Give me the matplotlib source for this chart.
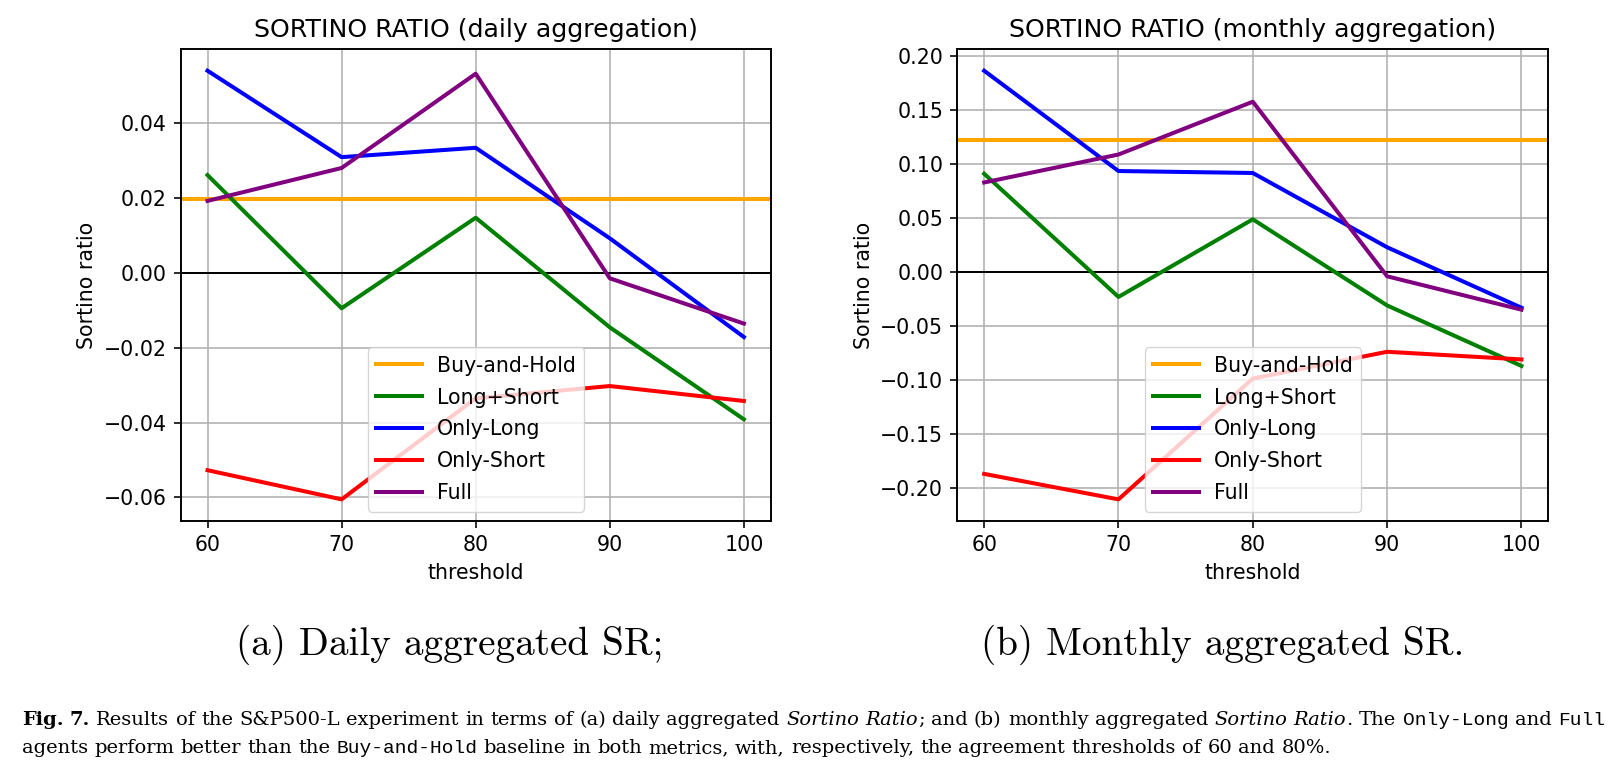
import matplotlib
matplotlib.use("Agg")
import matplotlib.pyplot as plt

# ---------------- data ----------------
thresholds = [60, 70, 80, 90, 100]

daily_buy_hold = 0.0197
daily_long_short = [0.0262, -0.0094, 0.0148, -0.0145, -0.0391]
daily_only_long = [0.0541, 0.0310, 0.0335, 0.0093, -0.0171]
daily_only_short = [-0.0527, -0.0605, -0.0335, -0.0302, -0.0342]
daily_full = [0.0193, 0.0281, 0.0533, -0.0014, -0.0135]

monthly_buy_hold = 0.1223
monthly_long_short = [0.0911, -0.0230, 0.0489, -0.0309, -0.0869]
monthly_only_long = [0.1865, 0.0936, 0.0918, 0.0230, -0.0330]
monthly_only_short = [-0.1869, -0.2105, -0.0986, -0.0738, -0.0809]
monthly_full = [0.0830, 0.1089, 0.1578, -0.0039, -0.0348]

titles = ["SORTINO RATIO (daily aggregation)", "SORTINO RATIO (monthly aggregation)"]
subcaptions = ["(a) Daily aggregated SR;", "(b) Monthly aggregated SR."]

# ---------------- figure ----------------
W, H = 1623, 771
fig = plt.figure(figsize=(W / 100, H / 100), dpi=100)

S = 1.45  # scale of the original figure
FS = 14.8
plt.rcParams["font.family"] = "DejaVu Sans"

ax_rects = [
    (180.7 / W, 1 - 520.8 / H, 590 / W, 471.5 / H),
    (957.3 / W, 1 - 520.8 / H, 591 / W, 471.5 / H),
]

panels = [
    (daily_buy_hold, daily_long_short, daily_only_long, daily_only_short, daily_full),
    (monthly_buy_hold, monthly_long_short, monthly_only_long, monthly_only_short, monthly_full),
]

lw = 2.0 * S
for rect, title, (bh, ls, ol, os_, fu) in zip(ax_rects, titles, panels):
    ax = fig.add_axes(rect)
    ax.axhline(bh, color="orange", lw=lw, label="Buy-and-Hold")
    ax.plot(thresholds, ls, color="green", lw=lw, label="Long+Short")
    ax.plot(thresholds, ol, color="blue", lw=lw, label="Only-Long")
    ax.plot(thresholds, os_, color="red", lw=lw, label="Only-Short")
    ax.plot(thresholds, fu, color="purple", lw=lw, label="Full")
    ax.axhline(0, color="black", lw=1.0 * S, zorder=1.5)
    ax.set_xticks(thresholds)
    ax.grid(True, color="#b0b0b0", lw=0.8 * S)
    ax.set_axisbelow(True)
    ax.set_title(title, fontsize=18.2, pad=6 * S)
    ax.set_xlabel("threshold", fontsize=FS, labelpad=4 * S)
    ax.set_ylabel("Sortino ratio", fontsize=FS, labelpad=3.2 * S)
    ax.tick_params(labelsize=FS, length=3.5 * S, width=0.8 * S, pad=3.5 * S)
    for sp in ax.spines.values():
        sp.set_linewidth(0.8 * S * 1.2)
    ax.legend(loc="lower center", fontsize=FS, handlelength=2.25,
              labelspacing=0.58, handletextpad=0.7, borderaxespad=0.45)

renderer = fig.canvas.get_renderer()


def text_width(s, **kw):
    t = fig.text(0, 0, s, **kw)
    w = t.get_window_extent(renderer).width
    t.remove()
    return w


# ---------------- sub-captions ----------------
sub_centers = [450, 1223]
sub_target_w = [426, 470]
base = text_width(subcaptions[0], fontfamily="cmr10", fontsize=10)
sub_fs = 10 * sub_target_w[0] / base
for s, cx in zip(subcaptions, sub_centers):
    fig.text(cx / W, 1 - 655 / H, s, fontfamily="cmr10", fontsize=sub_fs,
             ha="center", va="baseline")

# ---------------- caption ----------------
RM = dict(fontfamily="DejaVu Serif")
BF = dict(fontfamily="DejaVu Serif", fontweight="bold")
IT = dict(fontfamily="DejaVu Serif", fontstyle="italic")
TT = dict(fontfamily="Liberation Mono")


def words(text, style=RM):
    return [[(w, style)] for w in text.split()]


line1 = (
    [[("Fig.", BF)], [("7.", BF)]]
    + words("Results of the S&P500-L experiment in terms of (a) daily aggregated")
    + [[("Sortino", IT)], [("Ratio", IT), (";", RM)]]
    + words("and (b) monthly aggregated")
    + [[("Sortino", IT)], [("Ratio", IT), (".", RM)]]
    + words("The")
    + [[("Only-Long", TT)]]
    + words("and")
    + [[("Full", TT)]]
)
line2 = (
    words("agents perform better than the")
    + [[("Buy-and-Hold", TT)]]
    + words("baseline in both metrics, with, respectively, the agreement thresholds of 60 and 80%.")
)


def measure_line(line, fs):
    widths = []
    for word in line:
        ws = [text_width(seg, fontsize=fs, **st) for seg, st in word]
        widths.append(ws)
    return widths


def space_width(fs):
    return text_width("x x", fontsize=fs, **RM) - text_width("xx", fontsize=fs, **RM)


fs0 = 10
w2 = measure_line(line2, fs0)
nat2 = sum(sum(w) for w in w2) + space_width(fs0) * (len(line2) - 1)
cap_fs = fs0 * 1310 / nat2


def draw_line(line, y_px, fs, x0=21.7, target=None):
    widths = measure_line(line, fs)
    total = sum(sum(w) for w in widths)
    if target is None:
        gap = space_width(fs)
    else:
        gap = (target - total) / (len(line) - 1)
    x = x0
    for word, ws in zip(line, widths):
        for (seg, st), w in zip(word, ws):
            fig.text(x / W, 1 - y_px / H, seg, fontsize=fs, ha="left",
                     va="baseline", **st)
            x += w
        x += gap


draw_line(line1, 725, cap_fs, target=1583)
draw_line(line2, 753, cap_fs)

fig.savefig("out.png", dpi=100)
